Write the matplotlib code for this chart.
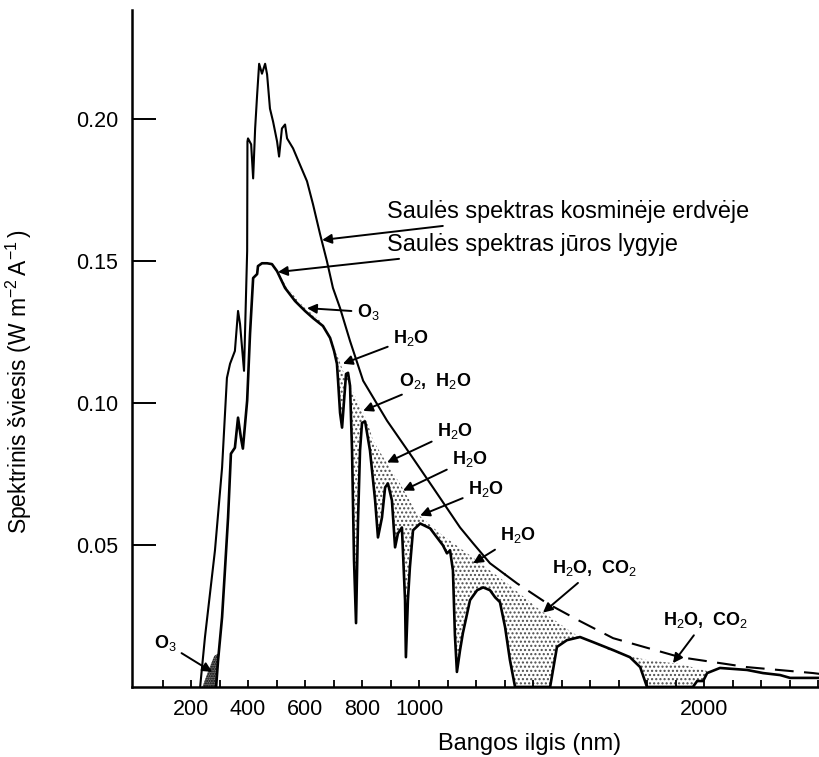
import numpy as np
import matplotlib
matplotlib.use("Agg")
import matplotlib.pyplot as plt

plt.rcParams['font.family'] = ['Liberation Sans', 'DejaVu Sans']
plt.rcParams['mathtext.fontset'] = 'custom'
plt.rcParams['mathtext.rm'] = 'Liberation Sans'
plt.rcParams['mathtext.it'] = 'Liberation Sans'
plt.rcParams['mathtext.bf'] = 'Liberation Sans:bold'
plt.rcParams['hatch.linewidth'] = 1.0

# spektras kosmineje erdveje (virs atmosferos)
space_nm = [232, 249, 284, 309, 326, 337, 354, 365, 372, 386, 397, 398, 400, 411, 418,
            425, 432, 439, 449, 460, 467, 477, 488, 502, 509, 519, 530, 537, 558, 582,
            607, 628, 653, 677, 698, 723, 758, 804, 888, 968, 1049, 1144, 1190, 1249,
            1344, 1449, 1565, 1681, 1916, 2151, 2383, 2407]
space_val = [0.0, 0.0176, 0.0481, 0.0773, 0.1089, 0.1139, 0.1184, 0.1325, 0.1279, 0.1114,
             0.1536, 0.1922, 0.1933, 0.1912, 0.1792, 0.1968, 0.2087, 0.2196, 0.2161, 0.2196,
             0.2158, 0.2038, 0.1992, 0.1922, 0.1869, 0.1968, 0.1982, 0.1933, 0.1898, 0.1841,
             0.1782, 0.1701, 0.1595, 0.1500, 0.1406, 0.1335, 0.1219, 0.1079, 0.0938, 0.0822,
             0.0703, 0.0562, 0.0506, 0.0436, 0.0365, 0.0295, 0.0232, 0.0172, 0.0105, 0.0070,
             0.0049, 0.0046]
dash_from = 1300

# spektras juros lygyje
sea_nm = [288, 295, 309, 319, 330, 340, 354, 365, 375, 382, 397, 407, 418, 432, 435, 449,
          467, 484, 502, 530, 565, 600, 628, 663, 688, 702, 712, 716, 723, 730, 737, 744,
          751, 758, 765, 772, 779, 786, 793, 800, 811, 828, 846, 856, 870, 881, 891, 905,
          916, 926, 940, 951, 954, 961, 968, 979, 1004, 1039, 1063, 1084, 1098, 1109, 1119,
          1126, 1133, 1144, 1154, 1179, 1204, 1225, 1249, 1267, 1284, 1302, 1319, 1337,
          1460, 1484, 1519, 1565, 1611, 1681, 1740, 1776, 1800, 1961, 1976, 1997, 2011,
          2056, 2151, 2207, 2267, 2302, 2407]
sea_val = [0.0, 0.0095, 0.0246, 0.0411, 0.0597, 0.0822, 0.0843, 0.0949, 0.0879, 0.0840,
           0.1009, 0.1244, 0.1441, 0.1455, 0.1483, 0.1493, 0.1493, 0.1490, 0.1465, 0.1406,
           0.1360, 0.1325, 0.1300, 0.1272, 0.1230, 0.1184, 0.1139, 0.1079, 0.0966, 0.0914,
           0.1009, 0.1103, 0.1107, 0.1061, 0.0833, 0.0446, 0.0225, 0.0587, 0.0833, 0.0931,
           0.0935, 0.0833, 0.0657, 0.0527, 0.0597, 0.0703, 0.0717, 0.0657, 0.0492, 0.0541,
           0.0562, 0.0306, 0.0105, 0.0306, 0.0422, 0.0552, 0.0576, 0.0559, 0.0527, 0.0499,
           0.0471, 0.0481, 0.0411, 0.0183, 0.0053, 0.0130, 0.0190, 0.0306, 0.0341, 0.0351,
           0.0341, 0.0316, 0.0299, 0.0211, 0.0095, 0.0, 0.0, 0.0141, 0.0165, 0.0176,
           0.0158, 0.0130, 0.0105, 0.0070, 0.0, 0.0, 0.0021, 0.0021, 0.0049,
           0.0067, 0.0060, 0.0049, 0.0042, 0.0032, 0.0032]

# virsutine taskuoto ploto riba (be absorbcijos)
env_nm = [502, 547, 593, 653, 698, 740, 775, 818, 839, 888, 933, 993, 1074, 1179, 1309,
          1425, 1540, 1681, 1800, 1916, 2011]
env_val = [0.1465, 0.1395, 0.1342, 0.1290, 0.1212, 0.1096, 0.1026, 0.0938, 0.0868, 0.0787,
           0.0717, 0.0611, 0.0541, 0.0464, 0.0365, 0.0271, 0.0190, 0.0123, 0.0095, 0.0081,
           0.0056]

# ozono sugertis UV srityje
uv_nm = [240, 262, 282, 300, 296, 288]
uv_val = [0.0, 0.0060, 0.0110, 0.0120, 0.0095, 0.0]

xtick_pos = list(range(100, 2401, 100))
xtick_shown = [200, 400, 600, 800, 1000, 2000]
ytick_pos = [0.05, 0.10, 0.15, 0.20]

# (tekstas, teksto vieta, rodykles galas)
notes = [
    ('Saulės spektras kosminėje erdvėje', (888, 0.1676), (660, 0.1575), 'left'),
    ('Saulės spektras jūros lygyje', (888, 0.1560), (505, 0.1462), 'left'),
    ('O$_3$', (822, 0.1321), (607, 0.1335), 'center'),
    ('H$_2$O', (972, 0.1230), (733, 0.1139), 'center'),
    ('O$_2$,  H$_2$O', (1056, 0.1079), (804, 0.0973), 'center'),
    ('H$_2$O', (1126, 0.0903), (888, 0.0791), 'center'),
    ('H$_2$O', (1179, 0.0805), (944, 0.0692), 'center'),
    ('H$_2$O', (1235, 0.0699), (1004, 0.0604), 'center'),
    ('H$_2$O', (1347, 0.0534), (1190, 0.0436), 'center'),
    ('H$_2$O,  CO$_2$', (1618, 0.0418), (1435, 0.0262), 'center'),
    ('H$_2$O,  CO$_2$', (2004, 0.0235), (1891, 0.0084), 'center'),
    ('O$_3$', (109, 0.0155), (274, 0.0053), 'center'),
]

fig = plt.figure(figsize=(8.2, 7.57), dpi=100)
ax = fig.add_axes([0.161, 0.0925, 0.839, 0.8945])

# taskuoti plotai
poly_x = env_nm + [n for n in sea_nm if 502 <= n <= 2011][::-1]
poly_y = env_val + [v for n, v in zip(sea_nm, sea_val) if 502 <= n <= 2011][::-1]
ax.fill(poly_x, poly_y, facecolor='none', edgecolor='0.3', hatch='....', linewidth=0)
ax.fill(uv_nm, uv_val, facecolor='0.45', edgecolor='black', hatch='.......', linewidth=0)

# virsutine kreive: istisine iki ~1300 nm, toliau bruksnine
sx = np.array(space_nm, dtype=float)
sy = np.array(space_val)
cut_val = np.interp(dash_from, sx, sy)
solid = sx < dash_from
ax.plot(np.append(sx[solid], dash_from), np.append(sy[solid], cut_val),
        color='black', lw=1.5, solid_joinstyle='round')
ax.plot(np.insert(sx[~solid], 0, dash_from), np.insert(sy[~solid], 0, cut_val),
        color='black', lw=1.5, dashes=(9, 5))

ax.plot(sea_nm, sea_val, color='black', lw=1.9, solid_joinstyle='round')

for txt, tpos, tip, ha in notes:
    big = txt.startswith('Saul')
    ax.annotate(txt, xy=tip, xytext=tpos, ha=ha, va='center',
                fontsize=16.8 if big else 13,
                fontweight='normal' if big else 'bold',
                arrowprops=dict(arrowstyle='-|>', color='black', lw=1.4,
                                mutation_scale=14, shrinkA=2, shrinkB=0))

ax.set_xlim(-7, 2407)
ax.set_ylim(0, 0.2386)

ax.set_xticks(xtick_pos)
ax.set_xticklabels([str(p) if p in xtick_shown else '' for p in xtick_pos])
ax.set_yticks(ytick_pos)
ax.set_yticklabels(['%.2f' % v for v in ytick_pos])
ax.tick_params(axis='x', direction='in', length=5, width=1.3, pad=9, labelsize=15.5)
ax.tick_params(axis='y', direction='in', length=17, width=1.4, pad=10, labelsize=15.5)

for side in ['top', 'right']:
    ax.spines[side].set_visible(False)
for side in ['left', 'bottom']:
    ax.spines[side].set_linewidth(1.8)

ax.set_xlabel('Bangos ilgis (nm)', fontsize=17)
ax.xaxis.set_label_coords(0.578, -0.068)
ax.set_ylabel(r'Spektrinis šviesis (W m$^{-2}\,$A$^{-1}\,$)', fontsize=16.5)
ax.yaxis.set_label_coords(-0.142, 0.45)

fig.savefig('out.png', dpi=100)
